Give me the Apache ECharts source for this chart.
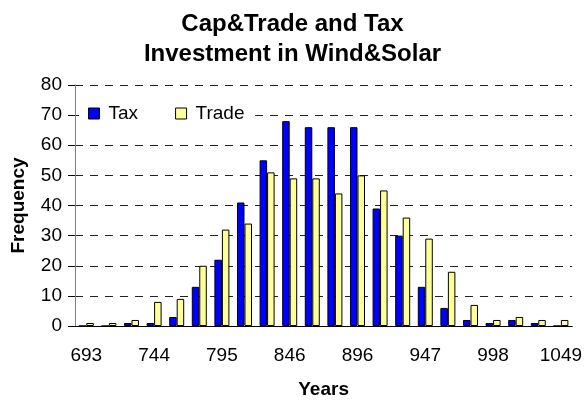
<!DOCTYPE html>
<html>
<head>
<meta charset="utf-8">
<script src="https://cdn.jsdelivr.net/npm/echarts@6/dist/echarts.min.js"></script>
<style>
  html, body { margin: 0; padding: 0; background: #fff; }
  #chart { width: 585px; height: 405px; }
</style>
</head>
<body>
<div id="chart"></div>
<script>
// bins (years), every third one is labelled on the axis
const years = ['693', '710', '727', '744', '761', '778', '795', '812', '829', '846', '863',
  '879', '896', '913', '930', '947', '964', '981', '998', '1015', '1032', '1049']
const taxFreq = [0, 0, 1, 1, 3, 13, 22, 41, 55, 68, 66, 66, 66, 39, 30, 13, 6, 2, 1, 2, 1, 0]
const tradeFreq = [1, 1, 2, 8, 9, 20, 32, 34, 51, 49, 49, 44, 50, 45, 36, 29, 18, 7, 2, 3, 2, 2]
const yTicks = [0, 10, 20, 30, 40, 50, 60, 70, 80]

const font = 'Liberation Sans, Arial, sans-serif'
const chart = echarts.init(document.getElementById('chart'))

chart.setOption({
  animation: false,
  title: {
    text: 'Cap&Trade and Tax\nInvestment in Wind&Solar',
    left: 'center',
    top: 4,
    textStyle: {
      fontFamily: font,
      fontSize: 24,
      fontWeight: 'bold',
      lineHeight: 30,
      color: '#000',
    },
  },
  legend: {
    left: 79,
    top: 102,
    padding: [2, 8, 2, 9],
    backgroundColor: '#fff',
    itemWidth: 11,
    itemHeight: 11,
    itemGap: 37,
    textStyle: {
      fontFamily: font,
      fontSize: 19,
      color: '#000',
      padding: [0, 0, 0, 4],
    },
    data: [
      { name: 'Tax', icon: 'rect', itemStyle: { color: '#0000ff', borderColor: '#000', borderWidth: 1 } },
      { name: 'Trade', icon: 'rect', itemStyle: { color: '#ffff99', borderColor: '#000', borderWidth: 1 } },
    ],
  },
  grid: {
    left: 75,
    right: 12,
    top: 85,
    bottom: 79,
  },
  xAxis: {
    type: 'category',
    data: years,
    name: 'Years',
    nameLocation: 'middle',
    nameGap: 54,
    nameTextStyle: { fontFamily: font, fontSize: 19, fontWeight: 'bold', color: '#000' },
    axisLine: { lineStyle: { color: '#000', width: 1 } },
    axisTick: { interval: 0, length: 7, lineStyle: { color: '#000' } },
    axisLabel: {
      interval: 2,
      margin: 20,
      fontFamily: font,
      fontSize: 19,
      color: '#000',
    },
  },
  yAxis: {
    type: 'value',
    min: yTicks[0],
    max: yTicks[yTicks.length - 1],
    interval: 10,
    name: 'Frequency',
    nameLocation: 'middle',
    nameGap: 47,
    nameTextStyle: { fontFamily: font, fontSize: 19, fontWeight: 'bold', color: '#000' },
    axisLine: { show: true, lineStyle: { color: '#808080', width: 1 } },
    axisTick: { show: true, length: 7, lineStyle: { color: '#000' } },
    axisLabel: { margin: 13, fontFamily: font, fontSize: 19, color: '#000' },
    splitLine: {
      lineStyle: { color: '#222', type: [8, 7], width: 1 },
    },
  },
  series: [
    {
      name: 'Tax',
      type: 'bar',
      data: taxFreq,
      barWidth: 7.5,
      barGap: '0%',
      itemStyle: { color: '#0000ff', borderColor: '#000', borderWidth: 1 },
    },
    {
      name: 'Trade',
      type: 'bar',
      data: tradeFreq,
      barWidth: 7.5,
      barGap: '0%',
      itemStyle: { color: '#ffff99', borderColor: '#000', borderWidth: 1 },
    },
  ],
})
</script>
</body>
</html>
